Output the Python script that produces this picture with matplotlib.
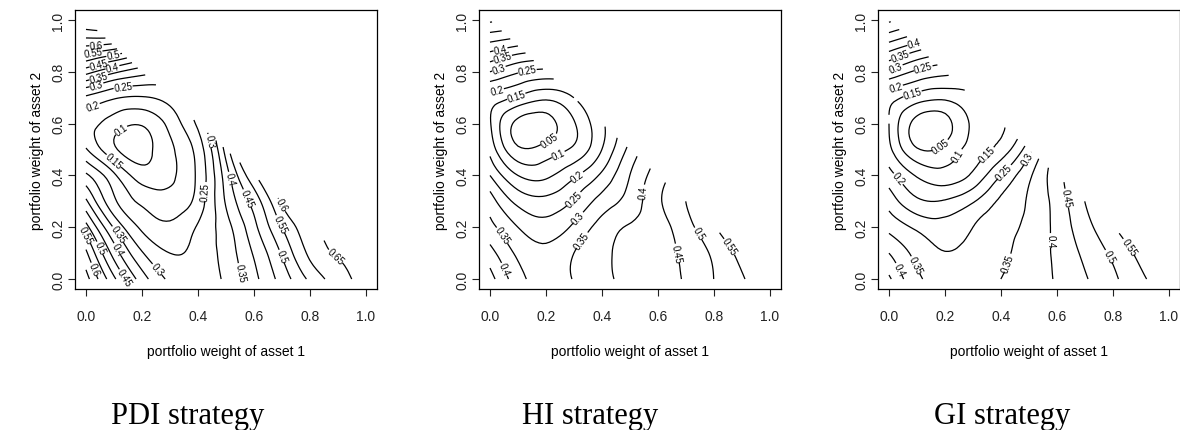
import numpy as np
import matplotlib
matplotlib.use("Agg")
import matplotlib.pyplot as plt
import matplotlib.tri as mtri

# weights of asset 1 and asset 2 are sampled every 0.1 on the simplex w1 + w2 <= 1
weight_step = 0.1

# risk surfaces.
# one row per asset-2 weight (0.0, 0.1, ... 1.0), each row runs over asset-1 weight 0.0 .. 1 - w2
pdi_rows = [
    [0.67, 0.51, 0.375, 0.29, 0.27, 0.31, 0.385, 0.47, 0.56, 0.625, 0.68],
    [0.61, 0.43, 0.305, 0.25, 0.265, 0.32, 0.405, 0.505, 0.61, 0.655],
    [0.52, 0.345, 0.24, 0.21, 0.255, 0.33, 0.435, 0.55, 0.635],
    [0.41, 0.26, 0.19, 0.17, 0.22, 0.355, 0.47, 0.61],
    [0.31, 0.21, 0.125, 0.14, 0.21, 0.375, 0.54],
    [0.205, 0.11, 0.08, 0.14, 0.22, 0.42],
    [0.17, 0.125, 0.105, 0.165, 0.26],
    [0.24, 0.205, 0.195, 0.22],
    [0.42, 0.36, 0.32],
    [0.6, 0.58],
    [0.75],
]

hi_rows = [
    [0.47, 0.37, 0.33, 0.353, 0.39, 0.41, 0.43, 0.455, 0.5, 0.545, 0.59],
    [0.42, 0.34, 0.315, 0.35, 0.39, 0.415, 0.435, 0.46, 0.51, 0.565],
    [0.365, 0.30, 0.27, 0.31, 0.37, 0.405, 0.43, 0.48, 0.545],
    [0.325, 0.235, 0.215, 0.255, 0.32, 0.37, 0.44, 0.50],
    [0.25, 0.15, 0.14, 0.19, 0.26, 0.35, 0.425],
    [0.185, 0.06, 0.07, 0.11, 0.2, 0.315],
    [0.155, 0.035, 0.03, 0.095, 0.19],
    [0.18, 0.14, 0.11, 0.15],
    [0.3, 0.255, 0.235],
    [0.43, 0.4],
    [0.56],
]

gi_rows = [
    [0.46, 0.36, 0.335, 0.325, 0.35, 0.375, 0.405, 0.445, 0.49, 0.54, 0.58],
    [0.40, 0.335, 0.302, 0.315, 0.34, 0.37, 0.41, 0.46, 0.51, 0.565],
    [0.335, 0.29, 0.27, 0.30, 0.335, 0.36, 0.415, 0.48, 0.545],
    [0.28, 0.21, 0.205, 0.245, 0.31, 0.355, 0.42, 0.50],
    [0.22, 0.145, 0.12, 0.16, 0.25, 0.34, 0.43],
    [0.165, 0.055, 0.065, 0.12, 0.17, 0.28],
    [0.15, 0.03, 0.03, 0.11, 0.145],
    [0.17, 0.125, 0.11, 0.14],
    [0.29, 0.24, 0.215],
    [0.43, 0.38],
    [0.56],
]

contour_levels = [0.05, 0.1, 0.15, 0.2, 0.25, 0.3, 0.35, 0.4, 0.45, 0.5, 0.55, 0.6, 0.65, 0.7, 0.75]
tick_values = [0.0, 0.2, 0.4, 0.6, 0.8, 1.0]
tick_labels = ["0.0", "0.2", "0.4", "0.6", "0.8", "1.0"]
strategy_names = ["PDI strategy", "HI strategy", "GI strategy"]
x_label = "portfolio weight of asset 1"
y_label = "portfolio weight of asset 2"


def simplex_triangulation(rows):
    xs, ys, zs = [], [], []
    index = {}
    for j, row in enumerate(rows):
        for i, val in enumerate(row):
            index[(i, j)] = len(xs)
            xs.append(i * weight_step)
            ys.append(j * weight_step)
            zs.append(val)
    n = len(rows) - 1
    triangles = []
    for j in range(n):
        for i in range(n - j):
            triangles.append([index[(i, j)], index[(i + 1, j)], index[(i, j + 1)]])
            if i + j + 2 <= n:
                triangles.append([index[(i + 1, j)], index[(i + 1, j + 1)], index[(i, j + 1)]])
    return mtri.Triangulation(xs, ys, triangles), np.array(zs)


def draw_panel(ax, rows):
    tri, z = simplex_triangulation(rows)
    refiner = mtri.UniformTriRefiner(tri)
    tri_f, z_f = refiner.refine_field(z, subdiv=3)
    cs = ax.tricontour(tri_f, z_f, levels=contour_levels, colors="black", linewidths=0.9)
    ax.clabel(cs, fmt="%g", fontsize=7, inline=True, inline_spacing=1)

    ax.set_xlim(-0.04, 1.04)
    ax.set_ylim(-0.04, 1.04)
    ax.set_xticks(tick_values)
    ax.set_xticklabels(tick_labels)
    ax.set_yticks(tick_values)
    ax.set_yticklabels(tick_labels, rotation=90, va="center")
    ax.tick_params(axis="both", direction="out", length=5, width=0.8, labelsize=10, colors="#222222")
    ax.tick_params(axis="x", pad=9)
    ax.tick_params(axis="y", pad=2)
    for sp in ax.spines.values():
        sp.set_linewidth(0.9)
    ax.set_xlabel(x_label, fontsize=10)
    ax.set_ylabel(y_label, fontsize=10)
    ax.xaxis.set_label_coords(0.5, -0.195)
    ax.yaxis.set_label_coords(-0.102, 0.5)


plt.rcParams["font.family"] = ["Liberation Sans", "DejaVu Sans"]

fig = plt.figure(figsize=(11.8, 4.31), dpi=100)
W, H = 1180.0, 431.0
panel_left = [74.8, 478.8, 877.8]
panel_width = 302.0
panel_bottom = (H - 290.4) / H
panel_height = 279.7 / H
caption_x = [188, 590, 1002]

for k, rows in enumerate([pdi_rows, hi_rows, gi_rows]):
    ax = fig.add_axes([panel_left[k] / W, panel_bottom, panel_width / W, panel_height])
    draw_panel(ax, rows)
    fig.text(caption_x[k] / W, (H - 424) / H, strategy_names[k], ha="center", va="baseline",
             fontsize=22, family="Liberation Serif")

fig.savefig("out.png", dpi=100)
